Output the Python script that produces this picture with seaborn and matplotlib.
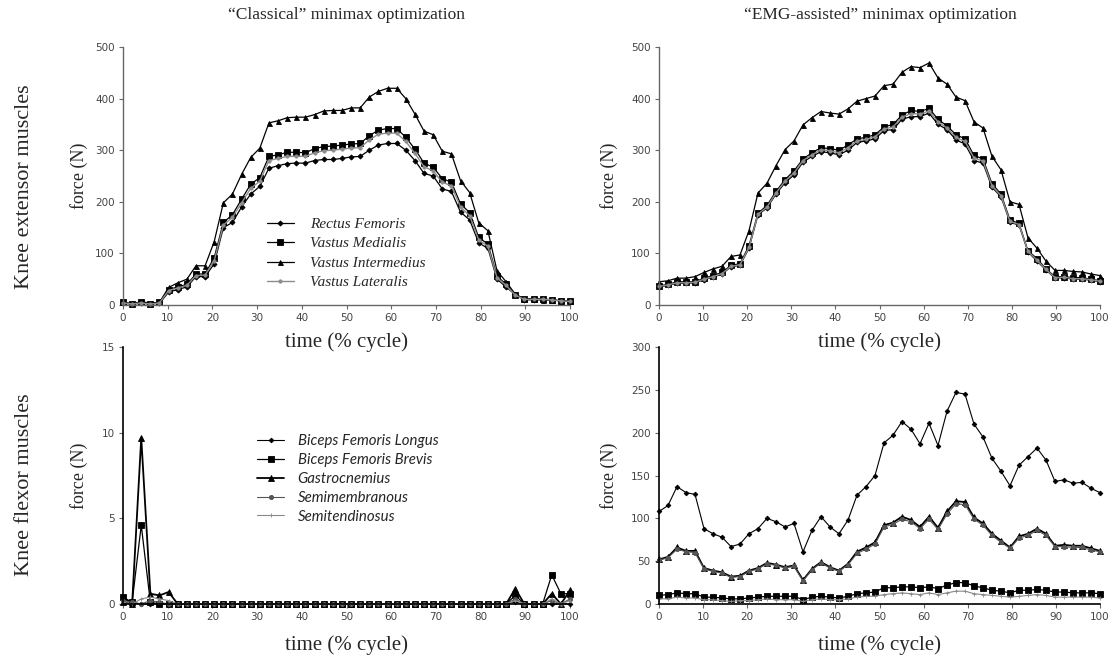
import numpy as np
import matplotlib
matplotlib.use("Agg")
import matplotlib.pyplot as plt
import seaborn as sns

# ---------------- data ----------------
TIME = np.linspace(0, 100, 50)  # % gait cycle sampling grid

EXT_NAMES = ["Rectus Femoris", "Vastus Medialis", "Vastus Intermedius", "Vastus Lateralis"]
FLX_NAMES = ["Biceps Femoris Longus", "Biceps Femoris Brevis", "Gastrocnemius",
             "Semimembranous", "Semitendinosus"]

# "Classical" minimax – knee extensors
TL_RF = [3, 2, 3, 2, 3, 25, 30, 35, 55, 55, 80, 150, 160, 190, 215, 230, 265, 270, 274, 275,
         275, 280, 282, 282, 284, 287, 288, 300, 310, 313, 313, 300, 280, 255, 250, 225, 220,
         180, 165, 120, 110, 50, 35, 20, 10, 10, 10, 10, 8, 7]
TL_VM = [5, 2, 5, 2, 5, 30, 35, 40, 60, 60, 92, 160, 175, 205, 234, 247, 288, 291, 296, 296,
         295, 303, 307, 308, 310, 312, 313, 328, 339, 342, 342, 325, 302, 275, 267, 245, 238,
         196, 179, 131, 118, 56, 40, 20, 12, 12, 12, 10, 8, 7]
TL_VI = [5, 3, 6, 4, 5, 34, 43, 50, 76, 76, 123, 198, 215, 253, 286, 304, 353, 357, 363, 364,
         364, 369, 376, 377, 377, 382, 382, 403, 414, 420, 420, 400, 370, 337, 330, 298, 293,
         241, 218, 159, 144, 66, 45, 21, 12, 12, 10, 10, 8, 7]
TL_VL = [4, 2, 4, 2, 4, 28, 33, 38, 57, 58, 86, 155, 170, 198, 226, 240, 280, 284, 288, 288,
         288, 295, 299, 300, 302, 304, 305, 320, 331, 333, 333, 317, 294, 268, 260, 238, 231,
         190, 173, 126, 114, 53, 38, 19, 11, 11, 11, 10, 8, 7]

# "EMG-assisted" minimax – knee extensors
TR_RF = [35, 38, 42, 42, 43, 49, 54, 60, 74, 77, 110, 175, 188, 215, 237, 252, 277, 288, 297,
         295, 291, 300, 315, 318, 322, 338, 340, 360, 365, 365, 372, 350, 340, 320, 312, 280,
         275, 228, 210, 160, 155, 103, 85, 68, 52, 53, 50, 50, 48, 45]
TR_VM = [37, 40, 45, 45, 45, 52, 57, 63, 77, 80, 115, 178, 193, 220, 243, 260, 283, 295, 305,
         303, 300, 310, 322, 325, 330, 345, 350, 368, 377, 375, 381, 360, 347, 330, 322, 290,
         283, 235, 215, 165, 158, 105, 90, 70, 55, 55, 53, 53, 50, 47]
TR_VI = [45, 47, 52, 52, 55, 63, 70, 75, 94, 97, 144, 217, 236, 270, 301, 318, 349, 363, 375,
         372, 370, 380, 395, 400, 405, 425, 428, 451, 462, 460, 469, 440, 428, 403, 396, 355,
         343, 288, 262, 200, 195, 130, 110, 85, 67, 67, 65, 64, 60, 57]
TR_VL = [36, 39, 43, 43, 44, 50, 55, 61, 75, 78, 112, 176, 190, 217, 240, 256, 280, 291, 301,
         299, 295, 305, 318, 321, 326, 341, 345, 364, 371, 370, 376, 355, 343, 325, 317, 285,
         279, 231, 212, 162, 156, 104, 87, 69, 53, 54, 51, 51, 49, 46]

# "Classical" minimax – knee flexors
BL_BFL = [0.3, 0.1, 0, 0, 0, 0, 0, 0, 0, 0, 0, 0, 0, 0, 0, 0, 0, 0, 0, 0, 0, 0, 0, 0, 0,
          0, 0, 0, 0, 0, 0, 0, 0, 0, 0, 0, 0, 0, 0, 0, 0, 0, 0, 0.1, 0, 0, 0, 0, 0, 0]
BL_BFB = [0.4, 0.1, 4.6, 0.1, 0, 0, 0, 0, 0, 0, 0, 0, 0, 0, 0, 0, 0, 0, 0, 0, 0, 0, 0, 0, 0,
          0, 0, 0, 0, 0, 0, 0, 0, 0, 0, 0, 0, 0, 0, 0, 0, 0, 0, 0.5, 0, 0, 0, 1.7, 0.6, 0.6]
BL_GAS = [0.1, 0, 9.7, 0.6, 0.5, 0.7, 0, 0, 0, 0, 0, 0, 0, 0, 0, 0, 0, 0, 0, 0, 0, 0, 0, 0, 0,
          0, 0, 0, 0, 0, 0, 0, 0, 0, 0, 0, 0, 0, 0, 0, 0, 0, 0, 0.9, 0, 0, 0, 0.6, 0, 0.8]
BL_SMM = [0.2, 0.1, 0, 0.2, 0.1, 0, 0, 0, 0, 0, 0, 0, 0, 0, 0, 0, 0, 0, 0, 0, 0, 0, 0, 0, 0,
          0, 0, 0, 0, 0, 0, 0, 0, 0, 0, 0, 0, 0, 0, 0, 0, 0, 0, 0.3, 0, 0, 0, 0.2, 0, 0.3]
BL_STD = [0.1, 0, 0.3, 0.4, 0.3, 0.2, 0, 0, 0, 0, 0, 0, 0, 0, 0, 0, 0, 0, 0, 0, 0, 0, 0, 0, 0,
          0, 0, 0, 0, 0, 0, 0, 0, 0, 0, 0, 0, 0, 0, 0, 0, 0, 0, 0.2, 0, 0, 0, 0.3, 0, 0.2]

# "EMG-assisted" minimax – knee flexors
BR_BFL = [108, 115, 137, 130, 128, 88, 82, 78, 67, 70, 82, 88, 100, 96, 90, 94, 61, 86, 102, 90,
          82, 98, 127, 137, 150, 188, 197, 213, 204, 187, 211, 185, 225, 247, 245, 210, 195,
          170, 155, 138, 162, 172, 182, 168, 143, 145, 141, 142, 135, 130]
BR_BFB = [10, 11, 13, 12, 12, 8, 8, 7, 6, 6, 7, 8, 9, 9, 9, 9, 5, 8, 9, 8, 7, 9, 12, 13, 14, 19,
          19, 20, 20, 19, 20, 18, 22, 25, 25, 21, 19, 16, 15, 13, 16, 16, 17, 16, 14, 14, 13,
          13, 13, 12]
BR_GAS = [52, 55, 66, 62, 62, 42, 39, 37, 32, 33, 39, 42, 48, 46, 43, 45, 28, 41, 49, 43, 39, 47,
          61, 66, 72, 92, 95, 102, 98, 90, 102, 89, 108, 120, 119, 101, 94, 82, 74, 66, 79, 82,
          88, 82, 68, 69, 68, 68, 65, 62]
BR_SMM = [51, 54, 64, 61, 60, 41, 38, 36, 31, 32, 38, 41, 47, 45, 42, 44, 27, 40, 48, 42, 38, 46,
          59, 64, 70, 90, 93, 99, 96, 88, 99, 87, 105, 117, 116, 99, 92, 80, 72, 65, 77, 80, 86,
          80, 67, 67, 66, 66, 63, 61]
BR_STD = [6, 6, 8, 7, 7, 5, 5, 4, 3, 4, 4, 5, 6, 5, 5, 5, 3, 5, 6, 5, 5, 6, 8, 9, 9, 11, 12, 13,
          12, 11, 13, 11, 13, 15, 15, 12, 11, 10, 9, 8, 9, 10, 11, 10, 8, 8, 8, 8, 8, 7]

X_TICKS = [0, 10, 20, 30, 40, 50, 60, 70, 80, 90, 100]

# ---------------- styling ----------------
sns.set_style("ticks")
plt.rcParams["font.family"] = ["Liberation Serif", "DejaVu Serif"]

EXT_STYLE = [
    dict(color="black", marker="D", ms=2.6, lw=0.9),
    dict(color="black", marker="s", ms=4.0, lw=0.9),
    dict(color="black", marker="^", ms=3.6, lw=0.9),
    dict(color="#8c8c8c", marker="o", ms=2.4, lw=1.0),
]
FLX_STYLE = [
    dict(color="black", marker="D", ms=2.4, lw=0.8),
    dict(color="black", marker="s", ms=4.0, lw=0.9),
    dict(color="black", marker="^", ms=4.0, lw=1.3),
    dict(color="#555555", marker="o", ms=3.0, lw=0.8),
    dict(color="#888888", marker="+", ms=3.0, lw=0.8),
]

fig = plt.figure(figsize=(11.17, 6.57), dpi=100)
W, H = 1117, 657


def make_ax(x0, x1, y0, y1):
    ax = fig.add_axes([x0 / W, 1 - y1 / H, (x1 - x0) / W, (y1 - y0) / H])
    ax.set_facecolor("none")
    return ax


ax_tl = make_ax(123, 570, 47, 305)
ax_tr = make_ax(659, 1100, 47, 305)
ax_bl = make_ax(123, 570, 347, 604)
ax_br = make_ax(659, 1100, 347, 604)


def draw(ax, series, names, styles, with_label):
    for y, name, st in zip(series, names, styles):
        sns.lineplot(x=TIME, y=y, ax=ax, color=st["color"], linewidth=st["lw"],
                     marker=st["marker"], markersize=st["ms"],
                     markeredgecolor=st["color"], markerfacecolor=st["color"],
                     markeredgewidth=0.6, clip_on=False, errorbar=None,
                     label=name if with_label else None, legend=False)


draw(ax_tl, [TL_RF, TL_VM, TL_VI, TL_VL], EXT_NAMES, EXT_STYLE, True)
draw(ax_tr, [TR_RF, TR_VM, TR_VI, TR_VL], EXT_NAMES, EXT_STYLE, False)
draw(ax_bl, [BL_BFL, BL_BFB, BL_GAS, BL_SMM, BL_STD], FLX_NAMES, FLX_STYLE, True)
draw(ax_br, [BR_BFL, BR_BFB, BR_GAS, BR_SMM, BR_STD], FLX_NAMES, FLX_STYLE, False)

for ax, ymax, ystep, top in [(ax_tl, 500, 100, True), (ax_tr, 500, 100, True),
                             (ax_bl, 15, 5, False), (ax_br, 300, 50, False)]:
    ax.set_xlim(0, 100)
    ax.set_ylim(0, ymax)
    ax.set_xticks(X_TICKS)
    ax.set_yticks(np.arange(0, ymax + ystep, ystep))
    sns.despine(ax=ax)
    spine_col = "#666666" if top else "black"
    for s in ("left", "bottom"):
        ax.spines[s].set_color(spine_col)
        ax.spines[s].set_linewidth(1.0 if top else 1.2)
    ax.tick_params(axis="both", direction="out", length=3, width=0.8, color="#666666",
                   labelsize=7.5, labelcolor="#444444", pad=3)
    for lab in ax.get_xticklabels() + ax.get_yticklabels():
        lab.set_family("DejaVu Sans")
    ax.set_xlabel("time (% cycle)", fontsize=15)
    ax.set_ylabel("force (N)", fontsize=13)
    ax.xaxis.label.set_zorder(5)
    if top:
        ax.xaxis.set_label_coords(0.5, -0.105)
    else:
        ax.xaxis.set_label_coords(0.5, -0.122)

ax_tl.yaxis.set_label_coords(-0.078, 0.5)
ax_bl.yaxis.set_label_coords(-0.078, 0.5)
ax_tr.yaxis.set_label_coords(-0.093, 0.5)
ax_br.yaxis.set_label_coords(-0.093, 0.5)

ax_tl.legend(loc="upper left", bbox_to_anchor=(0.322, 0.34), frameon=False,
             borderpad=0, borderaxespad=0, handlelength=1.75, handletextpad=1.1,
             labelspacing=0.38, prop=dict(family="Liberation Serif", style="italic", size=11))
ax_bl.legend(loc="upper left", bbox_to_anchor=(0.30, 0.66), frameon=False,
             borderpad=0, borderaxespad=0, handlelength=1.8, handletextpad=0.9,
             labelspacing=0.32, prop=dict(family="Lato", style="italic", size=10.8))

fig.text(346 / W, 1 - 15 / H, "\u201cClassical\u201d minimax optimization",
         ha="center", va="center", fontsize=12.5)
fig.text(880 / W, 1 - 15 / H, "\u201cEMG-assisted\u201d minimax optimization",
         ha="center", va="center", fontsize=12.5)
fig.text(25 / W, 1 - 187 / H, "Knee extensor muscles", rotation=90,
         ha="center", va="center", fontsize=16)
fig.text(25 / W, 1 - 485 / H, "Knee flexor muscles", rotation=90,
         ha="center", va="center", fontsize=16)

fig.savefig("out.png", dpi=100, facecolor="white")
